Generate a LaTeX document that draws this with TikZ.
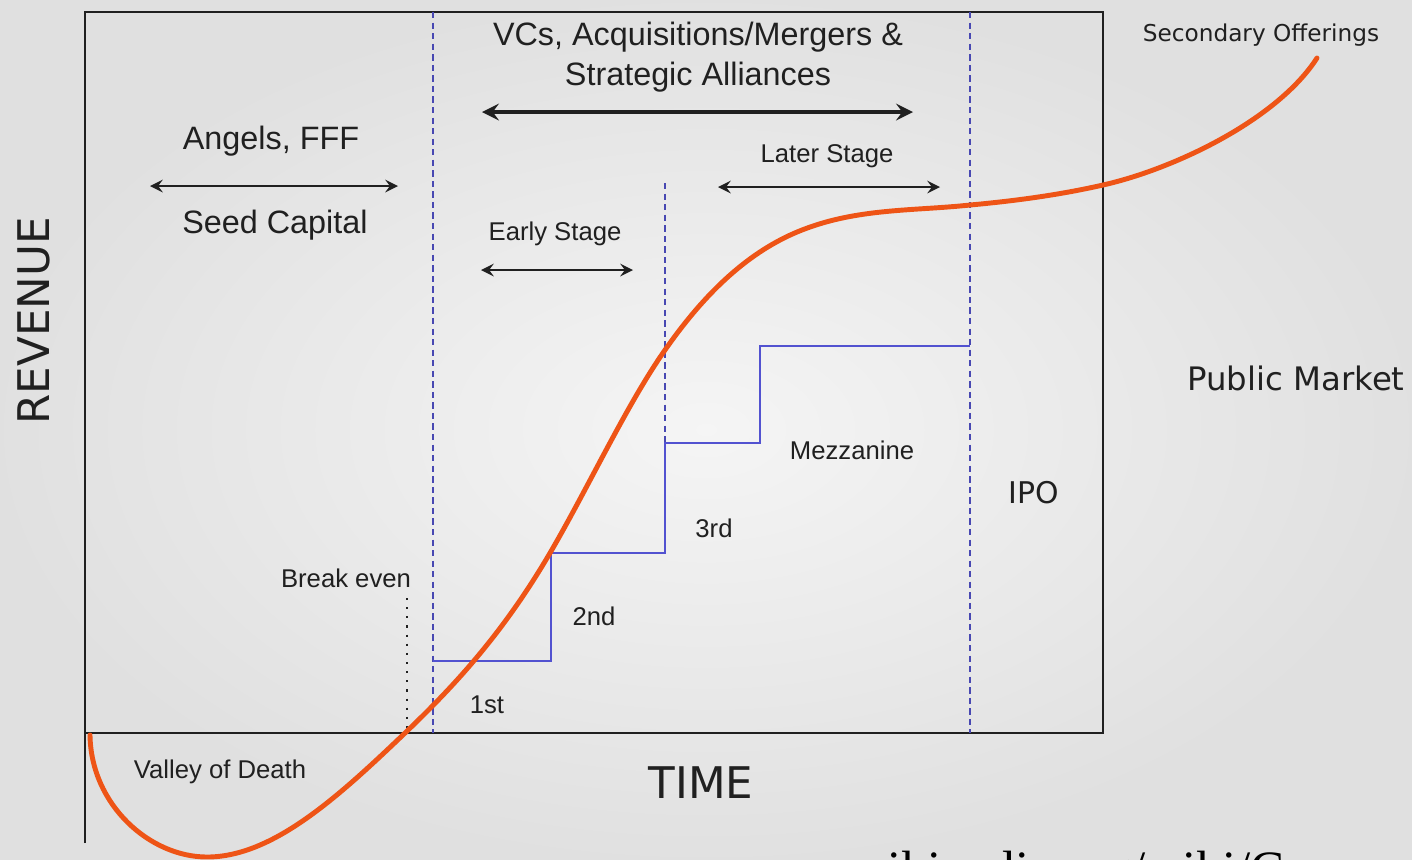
\documentclass[tikz,border=0pt]{standalone}
\usepackage{fontspec}
\setmainfont{Liberation Sans}
\newfontfamily\dejavu{DejaVu Sans}
\newfontfamily\webserif{Liberation Serif}
\usetikzlibrary{arrows}

\definecolor{curveorange}{RGB}{238,84,22}
\definecolor{stepblue}{RGB}{82,82,208}
\definecolor{phaseblue}{RGB}{72,72,178}
\definecolor{inkgray}{RGB}{32,32,32}

\tikzset{
  phase/.style={phaseblue, line width=0.45pt, dash pattern=on 1.8pt off 1.2pt},
  stepline/.style={stepblue, line width=0.6pt},
  span/.style={stealth-stealth, line width=0.6pt, inkgray},
  bigtext/.style={inkgray, inner sep=0pt, anchor=base, font=\fontsize{9.2}{11}\selectfont},
  smalltext/.style={inkgray, inner sep=0pt, anchor=base, font=\fontsize{7.3}{9}\selectfont},
  axistext/.style={inkgray, inner sep=0pt, anchor=base, font=\dejavu\fontsize{12.4}{14}\selectfont},
  sidetext/.style={inkgray, inner sep=0pt, anchor=base, font=\dejavu\fontsize{8.5}{10}\selectfont},
}

\begin{document}
\begin{tikzpicture}[x=0.01cm, y=-0.01cm]
  \useasboundingbox (0,0) rectangle (1412,859);
  \clip (0,0) rectangle (1412,859);
  \shade [inner color=gray!8, outer color=gray!24] (0,0) rectangle (1412,859);

  % frame and axes
  \draw [line width=0.7pt, inkgray] (85,843) -- (85,12) -- (1103,12) -- (1103,733) -- (85,733);
  \draw [phase] (433,12) -- (433,733);
  \draw [phase] (970,12) -- (970,733);
  \draw [phase] (665,183) -- (665,443);
  \draw [dotted, line width=0.6pt, inkgray] (407,598) -- (407,733);

  % funding rounds
  \draw [stepline] (433,661) -- (551,661) -- (551,553) -- (665,553) -- (665,443) -- (760,443) -- (760,346) -- (970,346);

  % revenue curve
  \draw [curveorange, line width=1.4pt, line cap=round] (90,735)
    .. controls (91,805) and (150,857) .. (207,857)
    .. controls (273,857) and (339,796) .. (405,733)
    .. controls (453,687) and (502,635) .. (550,553)
    .. controls (588,488) and (627,404) .. (665,350)
    .. controls (711,284) and (756,248) .. (802,230)
    .. controls (858,208) and (914,211) .. (970,205)
    .. controls (1014,201) and (1059,195) .. (1103,185)
    .. controls (1174,169) and (1277,120) .. (1317,58);

  % ranges
  \coordinate (seedL) at (150,186);
  \coordinate (seedR) at (398,186);
  \coordinate (vcL) at (482,112);
  \coordinate (vcR) at (913,112);
  \coordinate (lateL) at (718,187);
  \coordinate (lateR) at (940,187);
  \coordinate (earlyL) at (481,270);
  \coordinate (earlyR) at (633,270);
  \draw [span] (seedL) -- (seedR);
  \draw [span, line width=1.1pt] (vcL) -- (vcR);
  \draw [span] (lateL) -- (lateR);
  \draw [span] (earlyL) -- (earlyR);

  % labels
  \node [bigtext] (angels) at (271,149) {Angels, FFF};
  \node [bigtext] (seed) at (275,233) {Seed Capital};
  \node [bigtext] (vcs) at (698,45) {VCs, Acquisitions/Mergers \&};
  \node [bigtext] (alliances) at (698,85) {Strategic Alliances};
  \node [smalltext] (later) at (827,162) {Later Stage};
  \node [smalltext] (early) at (555,240) {Early Stage};
  \node [smalltext] (breakeven) at (346,587) {Break even};
  \node [smalltext] (first) at (487,713) {1st};
  \node [smalltext] (second) at (594,625) {2nd};
  \node [smalltext] (third) at (714,537) {3rd};
  \node [smalltext] (mezz) at (852,459) {Mezzanine};
  \node [smalltext] (valley) at (220,778) {Valley of Death};
  \node [sidetext] (ipo) at (1034,503) {IPO};
  \node [sidetext, font=\dejavu\fontsize{9.2}{11}\selectfont] (public) at (1296,390) {Public Market};
  \node [sidetext, font=\dejavu\fontsize{6.6}{8}\selectfont] (secondary) at (1261,41) {Secondary Offerings};
  \node [axistext] (time) at (701,798) {TIME};
  \node [axistext, rotate=90] (revenue) at (50,321) {REVENUE};
  \node [inner sep=0pt, anchor=base west, font=\webserif\fontsize{14.5}{16}\selectfont] (source) at (850,886) {wikipedia.org/wiki/C};
\end{tikzpicture}
\end{document}
